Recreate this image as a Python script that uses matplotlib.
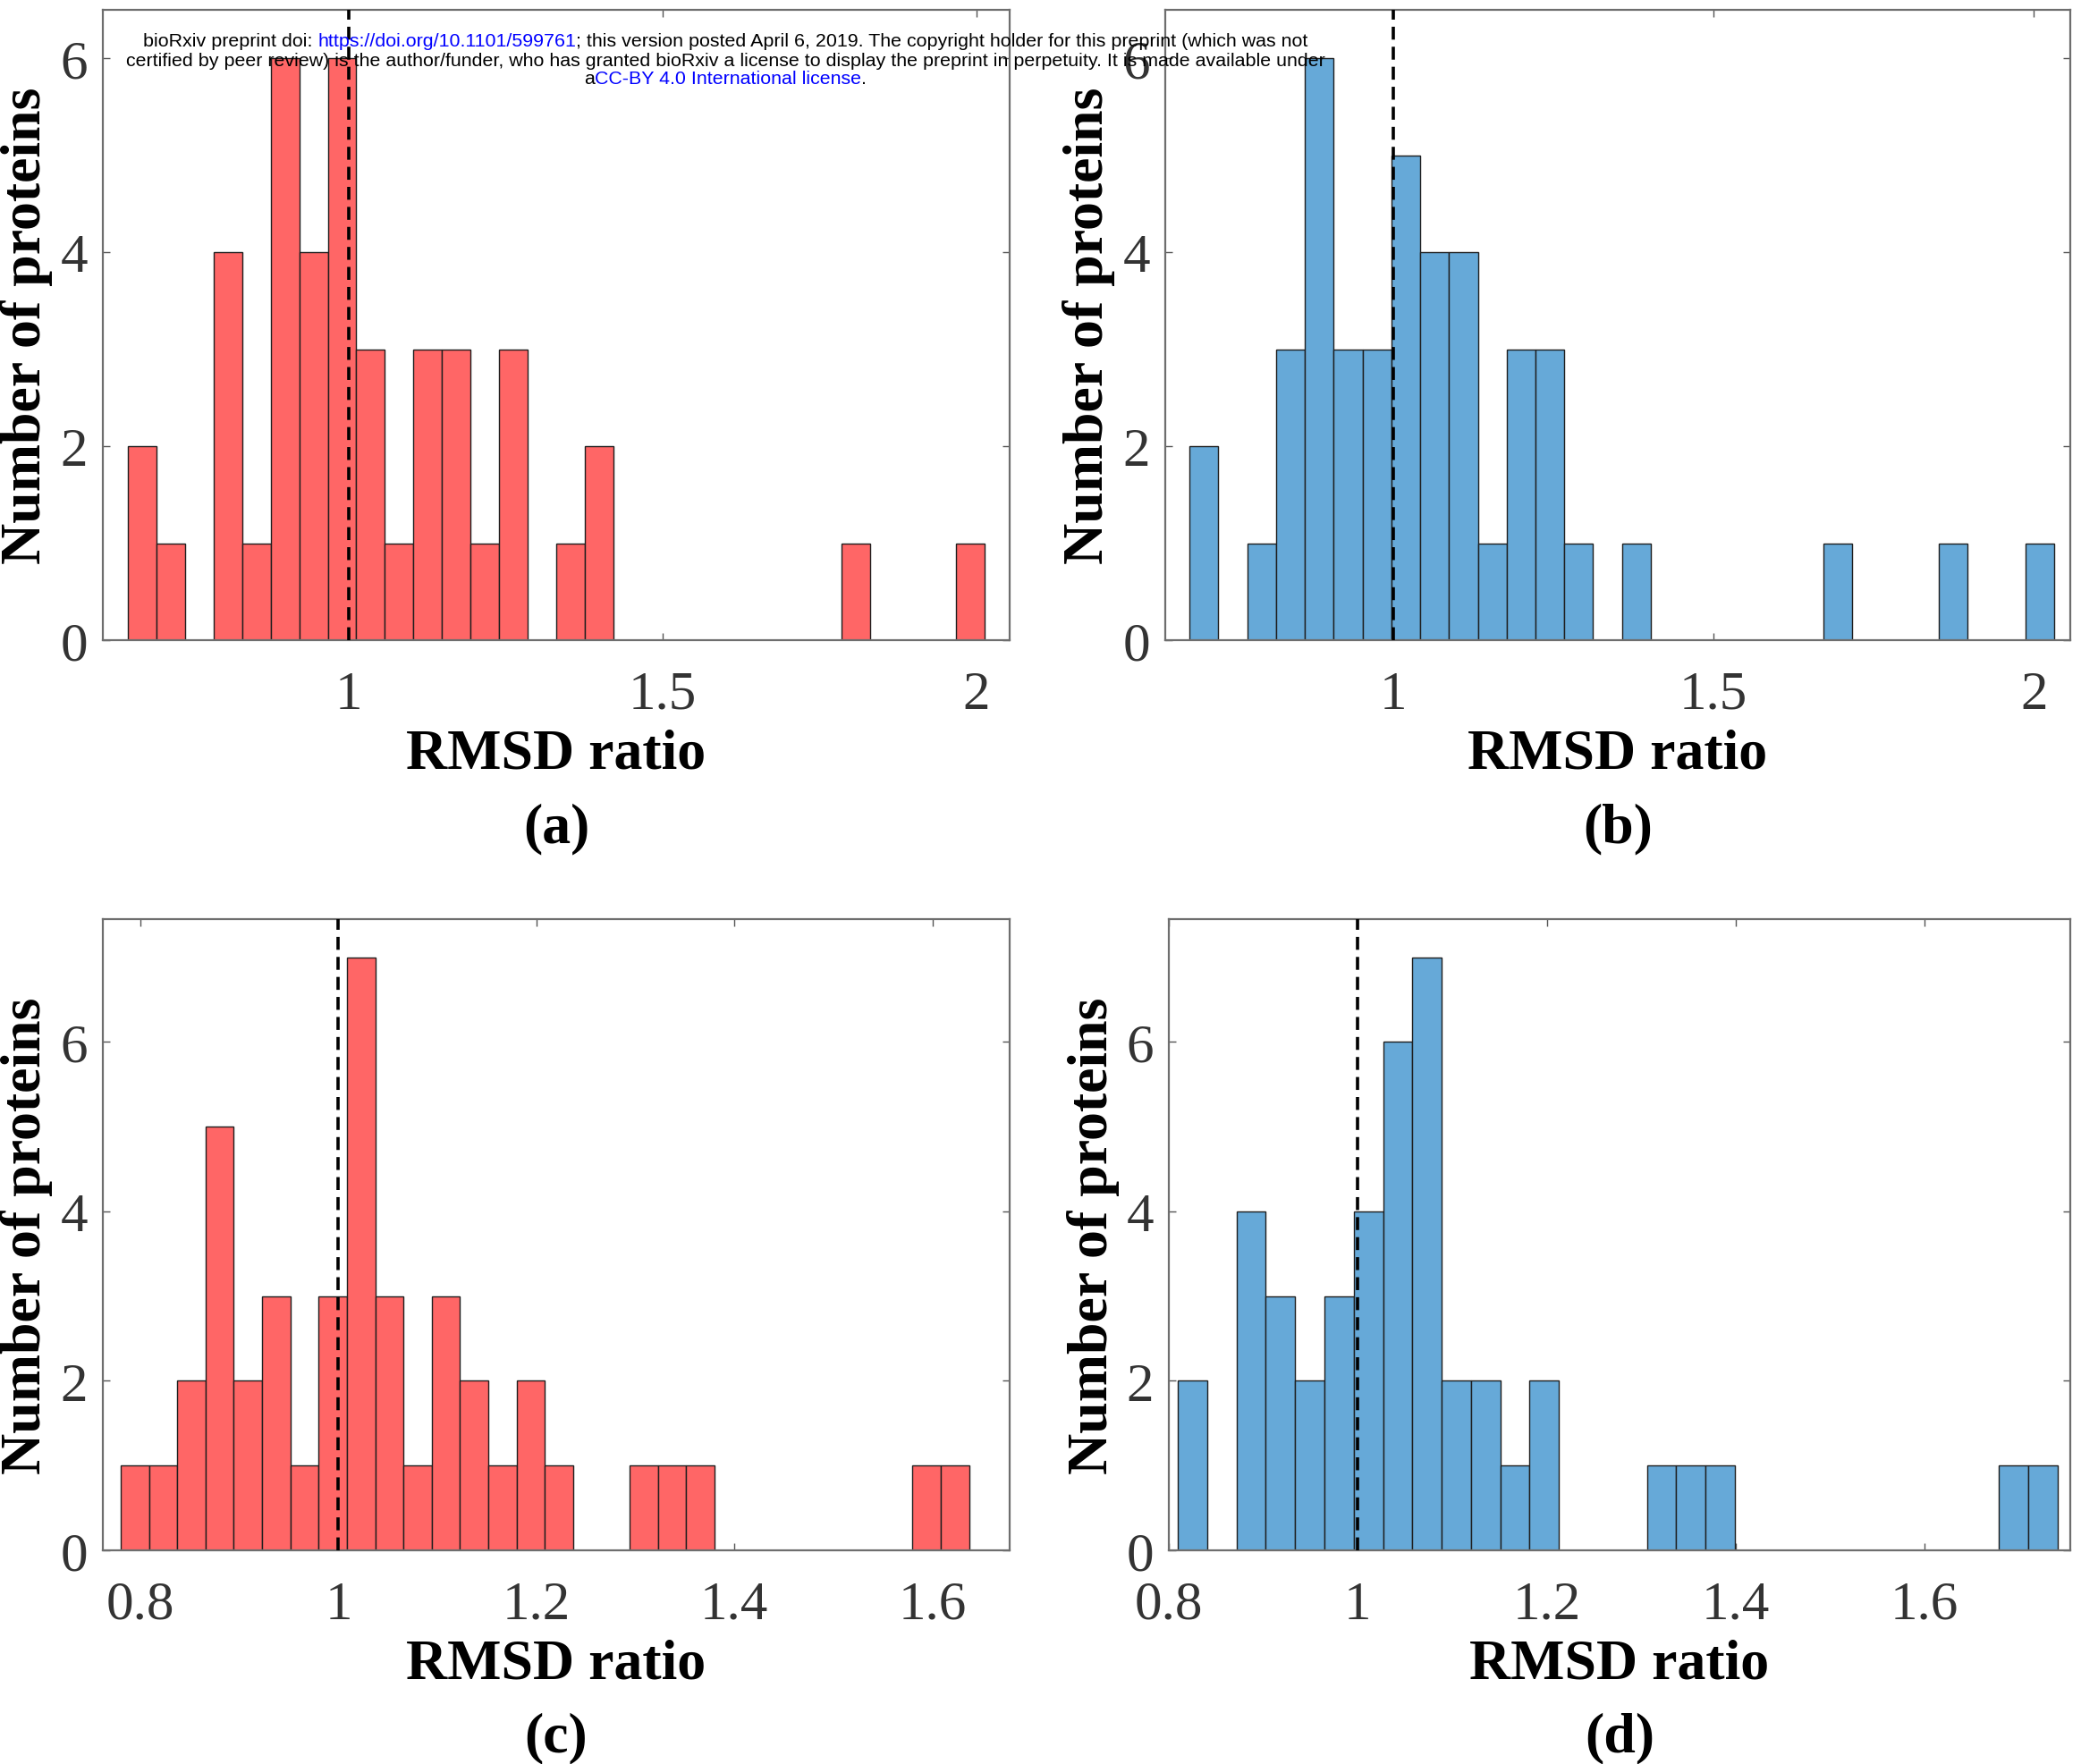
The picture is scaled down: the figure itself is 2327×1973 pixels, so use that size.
import matplotlib.pyplot as plt
import numpy as np

W, H = 2327, 1974

# counts per bin (30 bins each)
counts_a = [2, 1, 0, 4, 1, 6, 4, 6, 3, 1, 3, 3, 1, 3, 0, 1, 2,
            0, 0, 0, 0, 0, 0, 0, 0, 1, 0, 0, 0, 1]
counts_b = [2, 0, 1, 3, 6, 3, 3, 5, 4, 4, 1, 3, 3, 1, 0, 1,
            0, 0, 0, 0, 0, 0, 1, 0, 0, 0, 1, 0, 0, 1]
counts_c = [1, 1, 2, 5, 2, 3, 1, 3, 7, 3, 1, 3, 2, 1, 2, 1,
            0, 0, 1, 1, 1, 0, 0, 0, 0, 0, 0, 0, 1, 1]
counts_d = [2, 0, 4, 3, 2, 3, 4, 6, 7, 2, 2, 1, 2,
            0, 0, 0, 1, 1, 1, 0, 0, 0, 0, 0, 0, 0, 0, 0, 1, 1]

# histogram bin ranges (first edge, last edge)
range_a = (0.648, 2.013)
range_b = (0.682, 2.032)
range_c = (0.780, 1.637)
range_d = (0.8094, 1.7406)

xticks_top = [1, 1.5, 2]
xticks_bottom = [0.8, 1, 1.2, 1.4, 1.6]
xticklabels_top = ["1", "1.5", "2"]
xticklabels_bottom = ["0.8", "1", "1.2", "1.4", "1.6"]
yticks = [0, 2, 4, 6]

red = "#ff6666"
blue = "#66a9d8"

panels = [
    # counts, bin range, colour, box in px (left, top, right, bottom), xlim, ylim top,
    # ticks, tick labels, letter, xlabel y px, letter y px
    (counts_a, range_a, red, (115, 12, 1129, 717), (0.608, 2.053), 6.5,
     xticks_top, xticklabels_top, "(a)", 845, 927),
    (counts_b, range_b, blue, (1303, 12, 2315, 717), (0.644, 2.057), 6.5,
     xticks_top, xticklabels_top, "(b)", 845, 927),
    (counts_c, range_c, red, (115, 1029, 1129, 1735), (0.762, 1.678), 7.45,
     xticks_bottom, xticklabels_bottom, "(c)", 1863, 1944),
    (counts_d, range_d, blue, (1307, 1029, 2315, 1735), (0.802, 1.754), 7.45,
     xticks_bottom, xticklabels_bottom, "(d)", 1863, 1944),
]

serif = "Liberation Serif"
fig = plt.figure(figsize=(W / 100, H / 100), dpi=100)

for counts, brange, color, box, xlim, ytop, xt, xtl, letter, xlab_y, let_y in panels:
    l, t, r, b = box
    ax = fig.add_axes([l / W, 1 - b / H, (r - l) / W, (b - t) / H])
    edges = np.linspace(brange[0], brange[1], len(counts) + 1)
    ax.bar(edges[:-1], counts, width=np.diff(edges), align="edge",
           color=color, edgecolor="#1e1e1e", linewidth=1.0, zorder=2)
    ax.axvline(1.0, color="black", linestyle=(0, (4, 2.2)), linewidth=2.6, zorder=3)
    ax.set_xlim(*xlim)
    ax.set_ylim(0, ytop)
    ax.set_xticks(xt)
    ax.set_xticklabels(xtl)
    ax.set_yticks(yticks)
    ax.tick_params(direction="in", length=6, width=1.0, color="#555555",
                   top=True, right=True, labelsize=44, labelcolor="#333333")
    ax.tick_params(axis="x", pad=24)
    ax.tick_params(axis="y", pad=12)
    for lab in ax.get_xticklabels() + ax.get_yticklabels():
        lab.set_family(serif)
    for sp in ax.spines.values():
        sp.set_color("#6e6e6e")
        sp.set_linewidth(1.6)
    ax.set_xlabel("RMSD ratio", family=serif, fontweight="bold", fontsize=46, va="center")
    ax.xaxis.set_label_coords(0.5, (b - xlab_y) / (b - t))
    ax.set_ylabel("Number of proteins", family=serif, fontweight="bold", fontsize=46, va="center")
    ax.yaxis.set_label_coords(-0.084, 0.5)
    ax.text(0.5, (b - let_y) / (b - t), letter, transform=ax.transAxes,
            ha="center", va="center", family=serif, fontweight="bold", fontsize=46)

# preprint banner across the top
header = [
    (47, [("bioRxiv preprint doi: ", "black"), ("https://doi.org/10.1101/599761", "blue"),
          ("; this version posted April 6, 2019. The copyright holder for this preprint (which was not", "black")]),
    (68, [("certified by peer review) is the author/funder, who has granted bioRxiv a license to display "
           "the preprint in perpetuity. It is made available under", "black")]),
    (89, [("a", "black"), ("CC-BY 4.0 International license", "blue"), (".", "black")]),
]
sans = "Liberation Sans"
fs = 15.4
renderer = fig.canvas.get_renderer()


def text_width(s):
    tmp = fig.text(0, 0, s + "M", fontsize=fs, family=sans)
    w = tmp.get_window_extent(renderer).width
    tmp.set_text("M")
    w -= tmp.get_window_extent(renderer).width
    tmp.remove()
    return w


for y, parts in header:
    full = "".join(p for p, c in parts)
    x0 = 811 - text_width(full) / 2
    prefix = ""
    for piece, col in parts:
        x = x0 + (text_width(prefix) if prefix else 0)
        fig.text(x / W, 1 - y / H, piece, color=col, fontsize=fs, family=sans,
                 ha="left", va="center", zorder=10)
        prefix += piece

fig.savefig("out.png", dpi=100)
